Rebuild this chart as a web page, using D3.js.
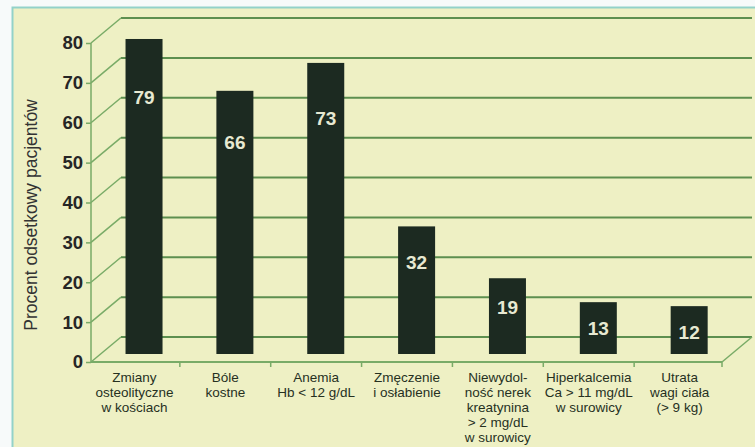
<!DOCTYPE html>
<html>
<head>
<meta charset="utf-8">
<script src="https://cdn.jsdelivr.net/npm/d3@7"></script>
<style>
  html, body { margin: 0; padding: 0; background: #f7fafa; }
  svg { display: block; }
</style>
</head>
<body>
<div id="chart"></div>
<script>
// dane wykresu
const categories = [
  ["Zmiany", "osteolityczne", "w kościach"],
  ["Bóle", "kostne"],
  ["Anemia", "Hb < 12 g/dL"],
  ["Zmęczenie", "i osłabienie"],
  ["Niewydol-", "ność nerek", "kreatynina", "> 2 mg/dL", "w surowicy"],
  ["Hiperkalcemia", "Ca > 11 mg/dL", "w surowicy"],
  ["Utrata", "wagi ciała", "(> 9 kg)"]
];
const values = [79, 66, 73, 32, 19, 13, 12];
const yTicks = [0, 10, 20, 30, 40, 50, 60, 70, 80];
const yTitle = "Procent odsetkowy pacjentów";

const width = 755, height = 447;
const svg = d3.select("#chart").append("svg")
  .attr("width", width)
  .attr("height", height);

// tło panelu
svg.append("rect")
  .attr("x", 12.5).attr("y", 7.5)
  .attr("width", width).attr("height", height)
  .attr("fill", "#eef0c4")
  .attr("stroke", "#93d2c9")
  .attr("stroke-width", 2);

// skale (przednia płaszczyzna osi)
const y = d3.scaleLinear().domain([0, 80]).range([362, 43]);
const x = d3.scaleBand()
  .domain(d3.range(categories.length))
  .range([89, 725]);

const depth = { dx: 30, dy: -25 };  // przesunięcie tylnej ściany
const barDepth = 0.32;              // położenie słupków w głębi
const axisX = 91, floorRight = 722, wallRight = 752;
const gridColor = "#5d8f4f";
const diagColor = "#79ab67";

const g = svg.append("g");

// linie siatki na tylnej ścianie
g.append("g")
  .selectAll("line")
  .data(yTicks)
  .join("line")
  .attr("x1", axisX + depth.dx)
  .attr("x2", wallRight)
  .attr("y1", d => y(d) + depth.dy)
  .attr("y2", d => y(d) + depth.dy)
  .attr("stroke", gridColor)
  .attr("stroke-width", 2);

// skośne linie od osi do ściany
g.append("g")
  .selectAll("line")
  .data(yTicks)
  .join("line")
  .attr("x1", axisX)
  .attr("y1", d => y(d))
  .attr("x2", axisX + depth.dx)
  .attr("y2", d => y(d) + depth.dy)
  .attr("stroke", diagColor)
  .attr("stroke-width", 1.5);

// podłoga: przednia krawędź i prawy bok
g.append("line")
  .attr("x1", axisX).attr("x2", floorRight)
  .attr("y1", y(0)).attr("y2", y(0))
  .attr("stroke", diagColor).attr("stroke-width", 2);
g.append("line")
  .attr("x1", floorRight).attr("y1", y(0))
  .attr("x2", floorRight + depth.dx).attr("y2", y(0) + depth.dy)
  .attr("stroke", diagColor).attr("stroke-width", 1.5);

// kreski podziału kategorii
g.append("g")
  .selectAll("line")
  .data(d3.range(1, categories.length + 1))
  .join("line")
  .attr("x1", d => Math.min(x(0) + d * x.step(), floorRight))
  .attr("x2", d => Math.min(x(0) + d * x.step(), floorRight))
  .attr("y1", y(0))
  .attr("y2", y(0) + 5)
  .attr("stroke", diagColor)
  .attr("stroke-width", 1.5);

// oś Y
g.append("line")
  .attr("x1", axisX).attr("x2", axisX)
  .attr("y1", y(80)).attr("y2", y(0))
  .attr("stroke", diagColor).attr("stroke-width", 1.5);

const yAxis = g.append("g")
  .attr("transform", `translate(${axisX},0)`)
  .call(d3.axisLeft(y).tickValues(yTicks).tickSize(5).tickPadding(3));
yAxis.select(".domain").remove();
yAxis.selectAll(".tick line").attr("stroke", diagColor).attr("stroke-width", 1.5);
yAxis.selectAll(".tick text")
  .attr("fill", "#262626")
  .style("font-family", "'Liberation Sans', Arial, sans-serif")
  .style("font-weight", "bold")
  .style("font-size", "18.5px");

// tytuł osi Y
svg.append("text")
  .attr("transform", "translate(37,215) rotate(-90)")
  .attr("text-anchor", "middle")
  .attr("fill", "#333")
  .style("font-family", "'Liberation Sans', Arial, sans-serif")
  .style("font-size", "17.5px")
  .text(yTitle);

// słupki
const bw = 37;
const bdx = depth.dx * barDepth, bdy = depth.dy * barDepth;
const yb = v => y(v) + bdy;

const bars = g.append("g")
  .selectAll("g")
  .data(values)
  .join("g");

bars.append("rect")
  .attr("x", (d, i) => x(i) + x.bandwidth() / 2 + bdx - bw / 2)
  .attr("y", d => yb(d))
  .attr("width", bw)
  .attr("height", d => yb(0) - yb(d))
  .attr("fill", "#1c2a21");

bars.append("text")
  .attr("x", (d, i) => x(i) + x.bandwidth() / 2 + bdx)
  .attr("y", d => yb(d) + 20 + 0.12 * (yb(0) - yb(d)))
  .attr("dy", "0.36em")
  .attr("text-anchor", "middle")
  .attr("fill", "#e7e9d2")
  .style("font-family", "'Liberation Sans', Arial, sans-serif")
  .style("font-weight", "bold")
  .style("font-size", "19px")
  .text(d => d);

// etykiety kategorii
const labels = g.append("g")
  .selectAll("text")
  .data(categories)
  .join("text")
  .attr("text-anchor", "middle")
  .attr("fill", "#26301f")
  .style("font-family", "'Liberation Sans', Arial, sans-serif")
  .style("font-size", "13.5px")
  .attr("transform", (d, i) => `translate(${x(i) + x.bandwidth() / 2},382)`);

labels.selectAll("tspan")
  .data(d => d)
  .join("tspan")
  .attr("x", 0)
  .attr("y", (d, i) => i * 15)
  .text(d => d);
</script>
</body>
</html>
